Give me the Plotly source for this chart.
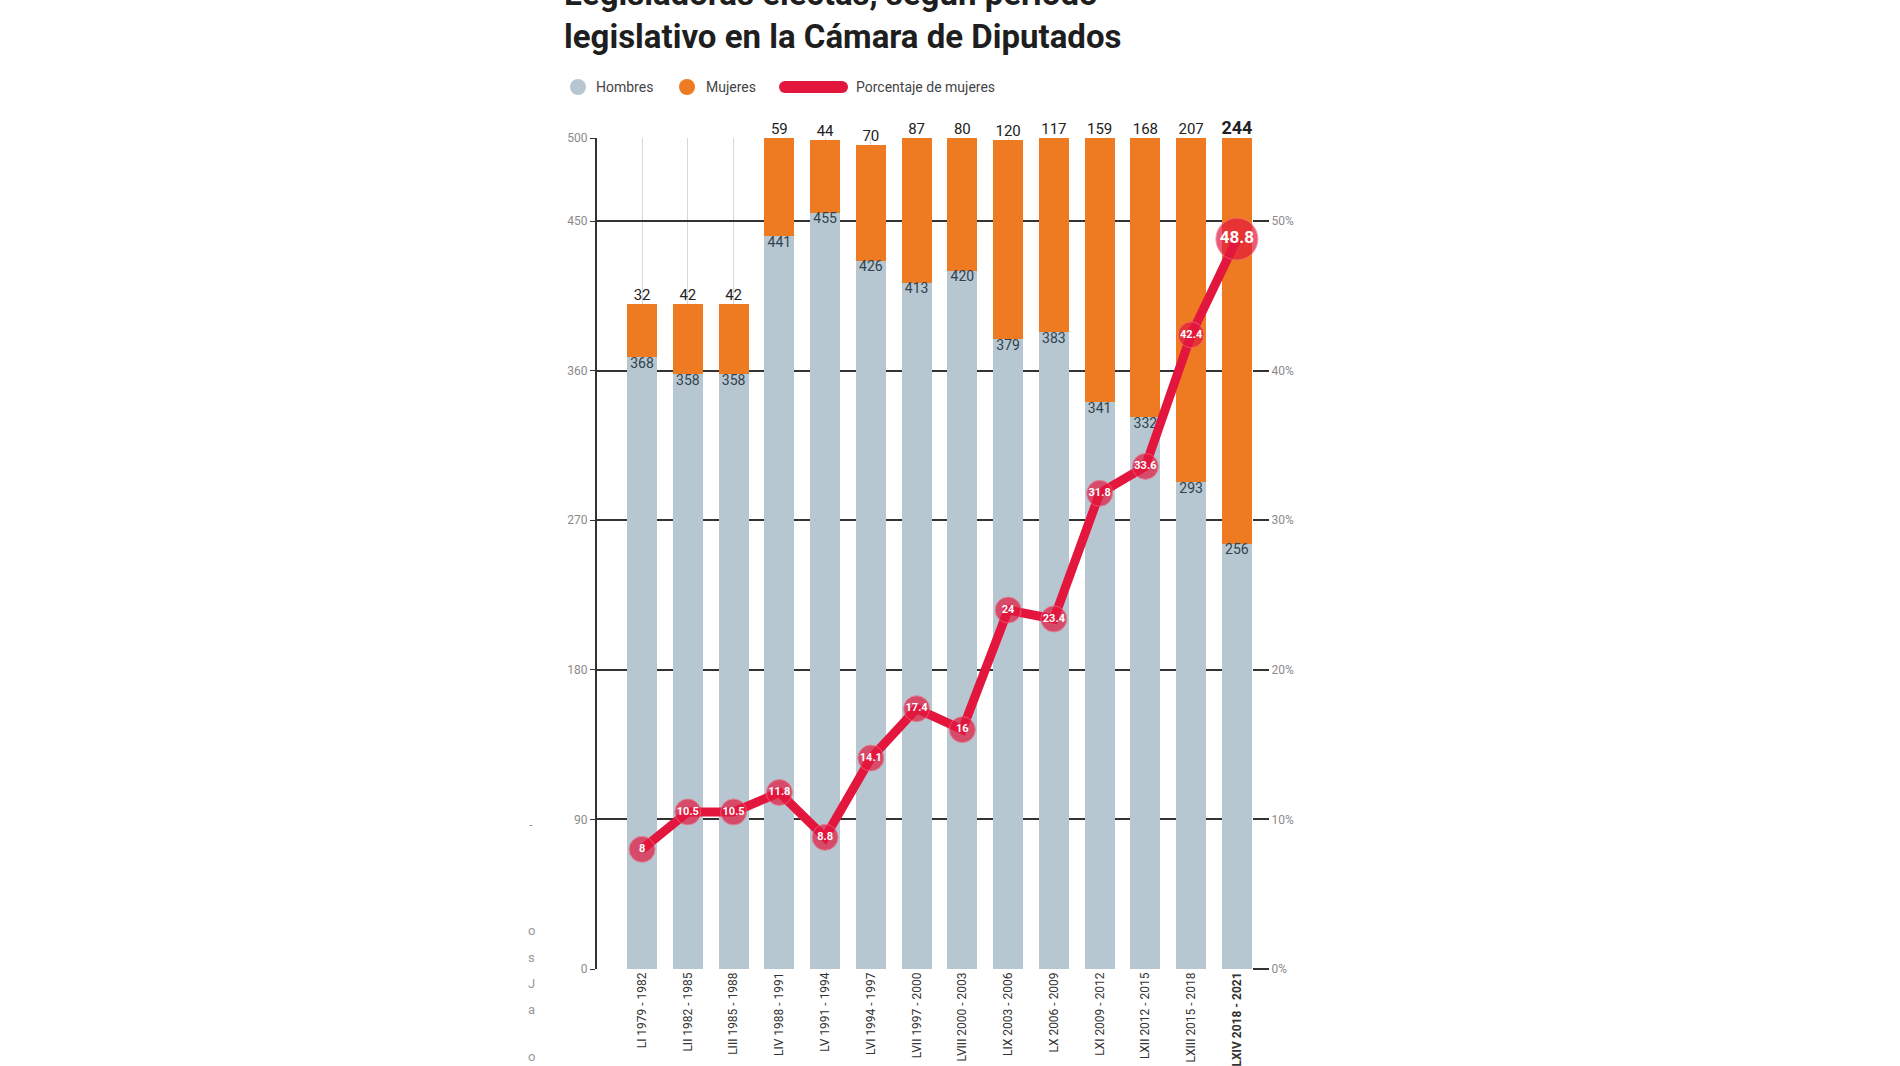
import plotly.graph_objects as go

periodos = ["LI 1979 - 1982", "LII 1982 - 1985", "LIII 1985 - 1988", "LIV 1988 - 1991",
            "LV 1991 - 1994", "LVI 1994 - 1997", "LVII 1997 - 2000", "LVIII 2000 - 2003",
            "LIX 2003 - 2006", "LX 2006 - 2009", "LXI 2009 - 2012", "LXII 2012 - 2015",
            "LXIII 2015 - 2018", "LXIV 2018 - 2021"]
hombres = [368, 358, 358, 441, 455, 426, 413, 420, 379, 383, 341, 332, 293, 256]
mujeres = [32, 42, 42, 59, 44, 70, 87, 80, 120, 117, 159, 168, 207, 244]
porcentaje = [8, 10.5, 10.5, 11.8, 8.8, 14.1, 17.4, 16, 24, 23.4, 31.8, 33.6, 42.4, 48.8]
porcentaje_txt = ["8", "10.5", "10.5", "11.8", "8.8", "14.1", "17.4", "16", "24", "23.4",
                  "31.8", "33.6", "42.4", "48.8"]
y_ticks = [0, 90, 180, 270, 360, 450, 500]
y2_ticks = [0, 10, 20, 30, 40, 50]

titulo_1 = "Legisladoras electas, según periodo"
titulo_2 = "legislativo en la Cámara de Diputados"

C_H = "#b6c7d2"
C_M = "#ee7a22"
C_R = "#e3173e"
FONT = "Liberation Sans Narrow, Roboto, sans-serif"

W, H = 1900, 1066
L, R, T, B = 597, 1252, 138, 969


def px(p):
    return (p - L) / (R - L)


def py(p):
    return (B - p) / (B - T)


totales = [h + m for h, m in zip(hombres, mujeres)]
n = len(periodos)
last = n - 1

fig = go.Figure()
fig.add_trace(go.Bar(x=periodos, y=hombres, marker=dict(color=C_H, line=dict(width=0)),
                     name="Hombres", showlegend=False))
fig.add_trace(go.Bar(x=periodos, y=mujeres, marker=dict(color=C_M, line=dict(width=0)),
                     name="Mujeres", showlegend=False))
fig.add_trace(go.Scatter(x=periodos, y=hombres, mode="text", text=[str(v) for v in hombres],
                         textposition="bottom center", cliponaxis=False, showlegend=False,
                         textfont=dict(family=FONT, size=14, color="#33414c")))
fig.add_trace(go.Scatter(x=periodos, y=totales, mode="text",
                         text=[("<b>%d</b>" % v) if i == last else str(v) for i, v in enumerate(mujeres)],
                         textposition="top center", cliponaxis=False, showlegend=False,
                         textfont=dict(family=FONT, size=[18 if i == last else 15 for i in range(n)],
                                       color="#222222")))
fig.add_trace(go.Scatter(x=periodos, y=porcentaje, yaxis="y2", mode="lines+markers+text",
                         text=[("<b>%s</b>" % t) for t in porcentaje_txt],
                         textposition="middle center", cliponaxis=False, showlegend=False,
                         line=dict(color=C_R, width=9),
                         marker=dict(color=C_R, size=[42 if i == last else 26 for i in range(n)],
                                     line=dict(color="#f06a80", width=1)),
                         textfont=dict(family=FONT, size=[17 if i == last else 11 for i in range(n)],
                                       color="white")))

annotations = [
    dict(text="<b>%s</b>" % titulo_1, x=px(562), y=py(-6), xanchor="left", yanchor="middle",
         font=dict(family=FONT, size=33, color="#1e1e1e")),
    dict(text="<b>%s</b>" % titulo_2, x=px(562), y=py(36), xanchor="left", yanchor="middle",
         font=dict(family=FONT, size=33, color="#1e1e1e")),
    dict(text="Hombres", x=px(594), y=py(87), xanchor="left", yanchor="middle",
         font=dict(family=FONT, size=14, color="#444444")),
    dict(text="Mujeres", x=px(704), y=py(87), xanchor="left", yanchor="middle",
         font=dict(family=FONT, size=14, color="#444444")),
    dict(text="Porcentaje de mujeres", x=px(854), y=py(87), xanchor="left", yanchor="middle",
         font=dict(family=FONT, size=14, color="#444444")),
]
for ch, yy in [("-", 824), ("o", 930), ("s", 957), ("J", 983), ("a", 1009), ("o", 1056)]:
    annotations.append(dict(text=ch, x=px(531), y=py(yy), xanchor="center", yanchor="middle",
                            font=dict(family=FONT, size=13, color="#9a9a9a")))
for a in annotations:
    a.update(xref="paper", yref="paper", showarrow=False)

shapes = [
    dict(type="circle", xref="paper", yref="paper", x0=px(570), x1=px(586), y0=py(95), y1=py(79),
         fillcolor=C_H, line=dict(width=0)),
    dict(type="circle", xref="paper", yref="paper", x0=px(679), x1=px(695), y0=py(95), y1=py(79),
         fillcolor=C_M, line=dict(width=0)),
    dict(type="line", xref="paper", yref="paper", x0=px(785), x1=px(842), y0=py(87), y1=py(87),
         line=dict(color=C_R, width=12)),
    dict(type="circle", xref="paper", yref="paper", x0=px(779), x1=px(791), y0=py(93), y1=py(81),
         fillcolor=C_R, line=dict(width=0)),
    dict(type="circle", xref="paper", yref="paper", x0=px(836), x1=px(848), y0=py(93), y1=py(81),
         fillcolor=C_R, line=dict(width=0)),
]

ticktext_x = [("<b>%s</b>" % p) if i == last else p for i, p in enumerate(periodos)]

fig.update_layout(
    width=W, height=H, autosize=False,
    margin=dict(l=L, r=W - R, t=T, b=H - B, pad=0),
    paper_bgcolor="white", plot_bgcolor="white",
    barmode="stack", bargap=0.345,
    font=dict(family=FONT, color="#333333"),
    xaxis=dict(type="category", range=[-0.985, 13.33], tickmode="array", tickvals=periodos,
               ticktext=ticktext_x, tickangle=-90, showgrid=True, gridcolor="#d6d6d6", gridwidth=1,
               showline=False, zeroline=False, ticks="", automargin=False,
               tickfont=dict(family=FONT, size=12, color="#333333")),
    yaxis=dict(range=[0, 500], tickmode="array", tickvals=y_ticks, ticktext=[str(v) for v in y_ticks],
               showgrid=True, gridcolor="#333333", gridwidth=2, zeroline=False,
               showline=True, linecolor="#333333", linewidth=2, ticks="outside", ticklen=5,
               tickcolor="#333333", automargin=False,
               tickfont=dict(family=FONT, size=12, color="#8a8a8a")),
    yaxis2=dict(range=[0, 500 / 9], overlaying="y", side="right", tickmode="array",
                tickvals=y2_ticks, ticktext=["%d%%" % v for v in y2_ticks], showgrid=False,
                zeroline=False, showline=False, ticks="outside", ticklen=16, tickcolor="#333333",
                tickwidth=1.5, automargin=False,
                tickfont=dict(family=FONT, size=12, color="#8a8a8a")),
    annotations=annotations, shapes=shapes,
)

fig.write_html("out.html")
